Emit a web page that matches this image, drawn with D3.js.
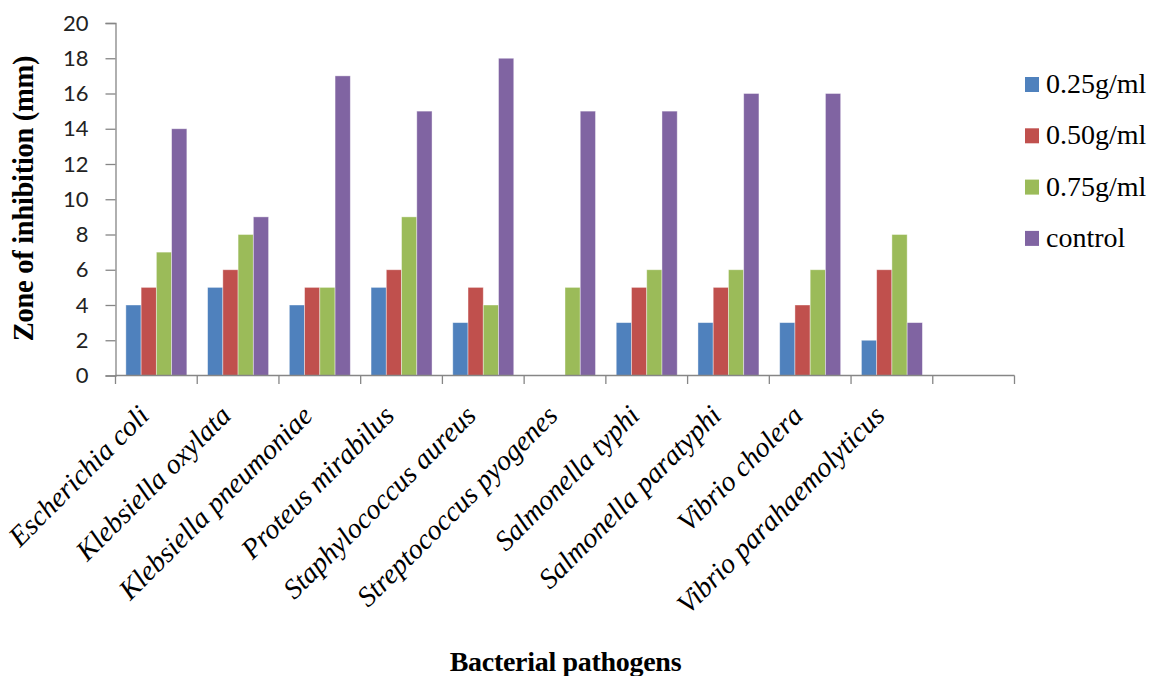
<!DOCTYPE html>
<html><head><meta charset="utf-8">
<script src="https://cdn.jsdelivr.net/npm/d3@7"></script>
<style>body{margin:0;background:#fff}svg{display:block}</style>
</head><body>
<script>
const categories = ["Escherichia coli","Klebsiella oxylata","Klebsiella pneumoniae","Proteus mirabilus","Staphylococcus aureus","Streptococcus pyogenes","Salmonella typhi","Salmonella paratyphi","Vibrio cholera","Vibrio parahaemolyticus",""];
const seriesNames = ["0.25g/ml","0.50g/ml","0.75g/ml","control"];
const s025 = [4,5,4,5,3,0,3,3,3,2];
const s050 = [5,6,5,6,5,0,5,5,4,6];
const s075 = [7,8,5,9,4,5,6,6,6,8];
const sControl = [14,9,17,15,18,15,15,16,16,3];
const colors = ["#4F81BD","#C0504D","#9BBB59","#8064A2"];
const yTicks = [0,2,4,6,8,10,12,14,16,18,20];
const series = [s025,s050,s075,sControl];

const W=1152,H=676;
const serif="'Liberation Serif','Times New Roman',Times,serif";
const svg=d3.select("body").append("svg").attr("width",W).attr("height",H);
const x=d3.scaleBand().domain(categories.map((c,i)=>i)).range([115.5,1014.5]);
const inner=d3.scaleBand().domain(seriesNames).range([0,x.bandwidth()]).paddingOuter(0.68);
const y=d3.scaleLinear().domain([0,20]).range([375.5,23]);
const axisCol="#868686";

// y axis
const ya=svg.append("g").attr("transform","translate(115.5,0)")
  .call(d3.axisLeft(y).tickValues(yTicks).tickSize(10).tickPadding(17));
ya.select(".domain").attr("stroke",axisCol).attr("stroke-width",1.3);
ya.selectAll(".tick line").attr("stroke",axisCol).attr("stroke-width",1.3);
ya.selectAll(".tick text").attr("font-family","Lato, 'Open Sans', sans-serif").attr("font-size",22).attr("fill","#222");

// bars
const groups=svg.append("g").selectAll("g").data(categories.slice(0,10)).join("g")
  .attr("transform",(d,i)=>`translate(${x(i)},0)`);
series.forEach((s,k)=>{
  groups.append("rect")
    .attr("x",()=>inner(seriesNames[k]))
    .attr("width",inner.bandwidth())
    .attr("y",(d,i)=>y(s[i]))
    .attr("height",(d,i)=>y(0)-y(s[i]))
    .attr("fill",colors[k])
    .attr("stroke",(d,i)=>s[i]>0?"rgba(255,255,255,0.5)":"none").attr("stroke-width",0.8);
});

// x axis line + boundary ticks
const xa=svg.append("g");
xa.append("line").attr("x1",115.5).attr("x2",1014.5).attr("y1",375.5).attr("y2",375.5).attr("stroke",axisCol).attr("stroke-width",1.3);
const bounds=categories.map((c,i)=>x(i)).concat([x(categories.length-1)+x.bandwidth()]);
xa.selectAll("line.t").data(bounds).join("line").attr("class","t")
  .attr("x1",d=>d).attr("x2",d=>d).attr("y1",375.5).attr("y2",384).attr("stroke",axisCol).attr("stroke-width",1.3);

// category labels
svg.append("g").selectAll("text").data(categories.slice(0,10)).join("text")
  .attr("transform",(d,i)=>`translate(${x(i)+x.bandwidth()/2-5.7},${417.3}) rotate(-45)`)
  .attr("text-anchor","end")
  .attr("font-family",serif)
  .attr("font-style","italic").attr("font-size",28.3).attr("fill","#000")
  .text(d=>d);

// axis titles
svg.append("text").attr("x",565.5).attr("y",671).attr("text-anchor","middle")
  .attr("font-family",serif).attr("font-weight","bold").attr("letter-spacing",-0.3)
  .attr("font-size",28).text("Bacterial pathogens");
svg.append("text").attr("transform","translate(33,198.5) rotate(-90)").attr("text-anchor","middle")
  .attr("font-family",serif).attr("font-weight","bold").attr("letter-spacing",-0.3)
  .attr("font-size",28.5).text("Zone of inhibition (mm)");

// legend
const lg=svg.append("g").selectAll("g").data(seriesNames).join("g")
  .attr("transform",(d,i)=>`translate(1025,${84.5+i*51.3})`);
lg.append("rect").attr("x",0).attr("y",-7.5).attr("width",14).attr("height",15).attr("fill",(d,i)=>colors[i]);
lg.append("text").attr("x",21).attr("y",8.5).attr("font-family",serif)
  .attr("font-size",28).attr("fill","#000").text(d=>d);
</script>
</body></html>
